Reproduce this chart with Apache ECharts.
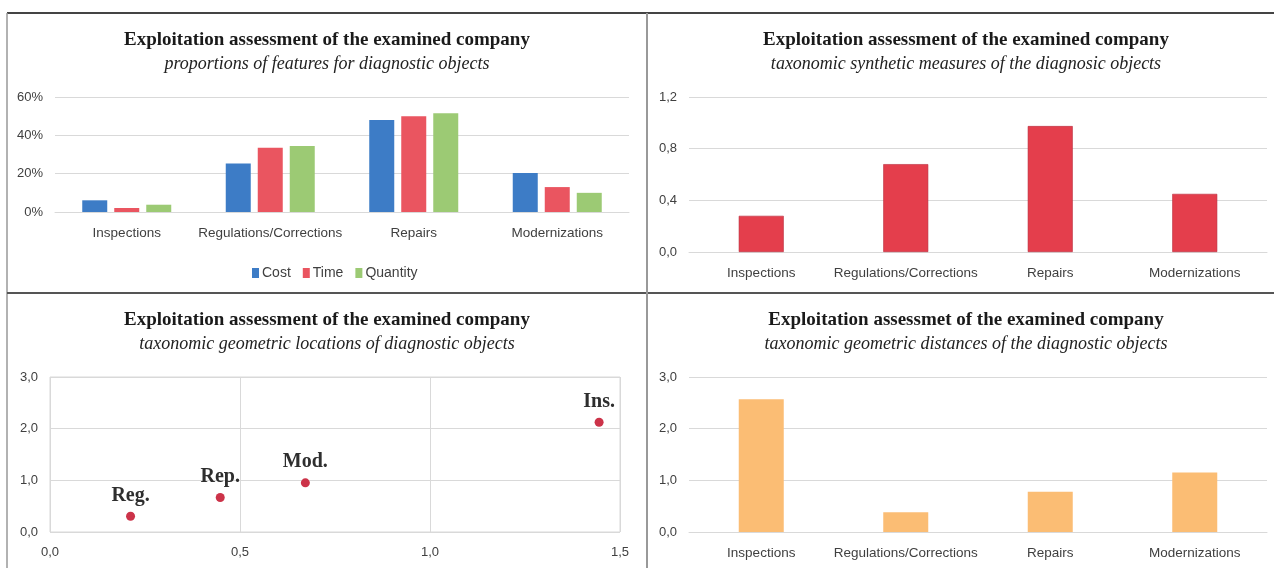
<!DOCTYPE html>
<html>
<head>
<meta charset="utf-8">
<script src="https://cdn.jsdelivr.net/npm/echarts@6/dist/echarts.min.js"></script>
<style>
  html, body { margin: 0; padding: 0; background: #fff; }
  #main { width: 1274px; height: 568px; }
</style>
</head>
<body>
<div id="main"></div>
<script>
// categories of diagnostic objects
var categories = ['Inspections', 'Regulations/Corrections', 'Repairs', 'Modernizations'];

// proportions of features (%)
var costShare = [6.1, 25.3, 48, 20.3];
var timeShare = [2.1, 33.5, 50, 13];
var quantityShare = [3.8, 34.5, 51.5, 10];

// taxonomic synthetic measures
var syntheticMeasure = [0.28, 0.68, 0.975, 0.45];

// taxonomic geometric locations
var locLabels = ['Ins.', 'Reg.', 'Rep.', 'Mod.'];
var locX = [1.445, 0.212, 0.448, 0.672];
var locY = [2.125, 0.305, 0.668, 0.952];

// taxonomic geometric distances
var distances = [2.57, 0.38, 0.78, 1.15];

var myChart = echarts.init(document.getElementById('main'));

var labelFont = "'Liberation Sans Narrow', 'Liberation Sans', sans-serif";
var gridGray = '#d9d9d9';
var comma = function (v) { return v.toFixed(1).replace('.', ','); };

function titleOf(x, y, text, sub) {
	return {
		text: text,
		subtext: sub,
		left: x,
		top: y,
		textAlign: 'center',
		padding: 0,
		itemGap: 4,
		textStyle: { fontFamily: 'Liberation Serif', fontWeight: 'bold', fontSize: 19, color: '#1a1a1a', lineHeight: 20 },
		subtextStyle: { fontFamily: 'Liberation Serif', fontStyle: 'italic', fontSize: 18, color: '#222', lineHeight: 20 }
	};
}

function catAxis(idx) {
	return {
		type: 'category',
		gridIndex: idx,
		data: categories,
		axisTick: { show: false },
		axisLine: { lineStyle: { color: gridGray } },
		axisLabel: { fontFamily: labelFont, fontSize: 13.5, color: '#404040', margin: 14, interval: 0 }
	};
}

function valAxis(idx, min, max, step, fmt) {
	return {
		type: 'value',
		gridIndex: idx,
		min: min, max: max, interval: step,
		axisLine: { show: false },
		axisTick: { show: false },
		splitLine: { lineStyle: { color: gridGray } },
		axisLabel: { fontFamily: labelFont, fontSize: 13, color: '#404040', margin: 12, formatter: fmt }
	};
}

var scatterData = locX.map(function (x, i) {
	return { value: [x, locY[i]], name: locLabels[i] };
});

var option = {
	animation: false,
	title: [
		titleOf(327, 30, 'Exploitation assessment of the examined company', 'proportions of features for diagnostic objects'),
		titleOf(966, 30, 'Exploitation assessment of the examined company', 'taxonomic synthetic measures of the diagnosic objects'),
		titleOf(327, 310, 'Exploitation assessment of the examined company', 'taxonomic geometric locations of diagnostic objects'),
		titleOf(966, 310, 'Exploitation assessmet of the examined company', 'taxonomic geometric distances of the diagnostic objects')
	],
	legend: {
		data: ['Cost', 'Time', 'Quantity'],
		icon: 'rect',
		left: 247,
		top: 261,
		itemWidth: 7,
		itemHeight: 10,
		itemGap: 12,
		textStyle: { fontFamily: labelFont, fontSize: 14, color: '#404040', padding: [0, 0, 0, -2] }
	},
	grid: [
		{ left: 55, right: 645, top: 97, bottom: 356 },
		{ left: 689, right: 7, top: 97, bottom: 316 },
		{ left: 50, right: 654, top: 377, bottom: 36, show: true, borderColor: gridGray, borderWidth: 1 },
		{ left: 689, right: 7, top: 377, bottom: 36 }
	],
	xAxis: [
		catAxis(0),
		catAxis(1),
		{
			type: 'value', gridIndex: 2, min: 0, max: 1.5, interval: 0.5,
			axisLine: { show: false }, axisTick: { show: false },
			splitLine: { lineStyle: { color: gridGray } },
			axisLabel: { fontFamily: labelFont, fontSize: 13, color: '#404040', margin: 14, formatter: comma }
		},
		catAxis(3)
	],
	yAxis: [
		valAxis(0, 0, 60, 20, '{value}%'),
		valAxis(1, 0, 1.2, 0.4, comma),
		valAxis(2, 0, 3, 1, comma),
		valAxis(3, 0, 3, 1, comma)
	],
	series: [
		{ name: 'Cost', type: 'bar', xAxisIndex: 0, yAxisIndex: 0, data: costShare, barWidth: 25, barGap: '28%', itemStyle: { color: '#3d7cc6' } },
		{ name: 'Time', type: 'bar', xAxisIndex: 0, yAxisIndex: 0, data: timeShare, barWidth: 25, barGap: '28%', itemStyle: { color: '#ea5560' } },
		{ name: 'Quantity', type: 'bar', xAxisIndex: 0, yAxisIndex: 0, data: quantityShare, barWidth: 25, barGap: '28%', itemStyle: { color: '#9cca74' } },
		{ name: 'Synthetic', type: 'bar', xAxisIndex: 1, yAxisIndex: 1, data: syntheticMeasure, barWidth: 45, itemStyle: { color: '#e43e4c', borderColor: '#b82c3c', borderWidth: 0.6 } },
		{
			name: 'Locations', type: 'scatter', xAxisIndex: 2, yAxisIndex: 2, data: scatterData,
			symbolSize: 9, itemStyle: { color: '#cc3349', opacity: 1 },
			label: {
				show: true, position: 'top', distance: 6, formatter: '{b}',
				fontFamily: 'Liberation Serif', fontWeight: 'bold', fontSize: 20, color: '#2e2e2e', opacity: 1
			}
		},
		{ name: 'Distances', type: 'bar', xAxisIndex: 3, yAxisIndex: 3, data: distances, barWidth: 45, itemStyle: { color: '#fbbd74' } }
	],
	graphic: [
		{ type: 'line', shape: { x1: 7, y1: 13, x2: 1274, y2: 13 }, style: { stroke: '#444', lineWidth: 2 } },
		{ type: 'line', shape: { x1: 7, y1: 13, x2: 7, y2: 568 }, style: { stroke: '#999', lineWidth: 1.5 } },
		{ type: 'line', shape: { x1: 7, y1: 293, x2: 1274, y2: 293 }, style: { stroke: '#555', lineWidth: 2 } },
		{ type: 'line', shape: { x1: 647, y1: 13, x2: 647, y2: 568 }, style: { stroke: '#999', lineWidth: 2 } }
	]
};

myChart.setOption(option);
</script>
</body>
</html>
